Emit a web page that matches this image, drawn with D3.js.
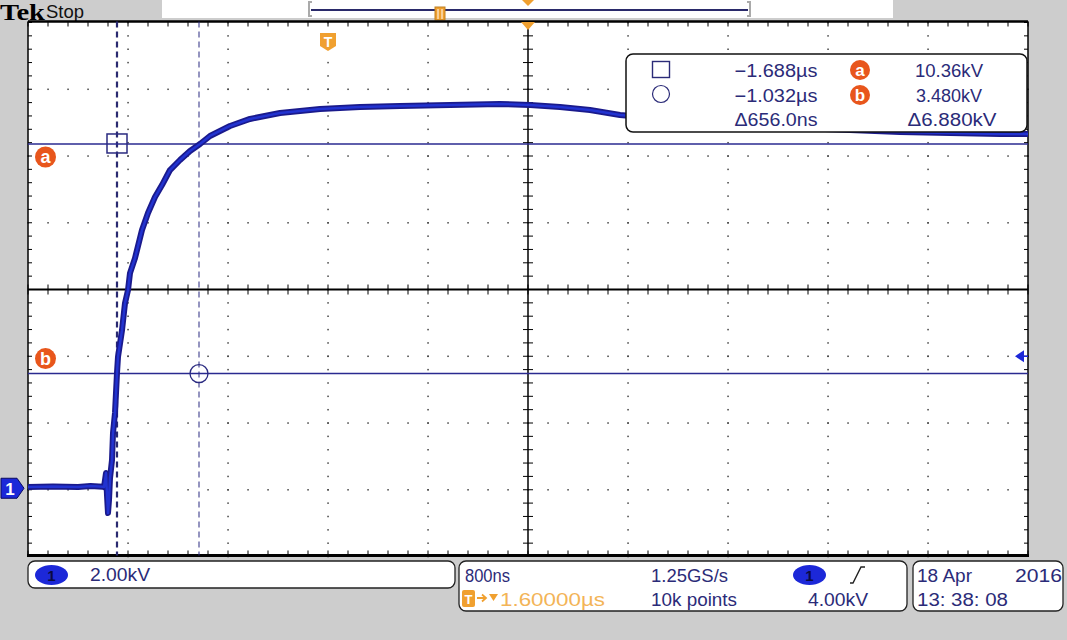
<!DOCTYPE html>
<html><head><meta charset="utf-8">
<script src="https://cdn.jsdelivr.net/npm/d3@7"></script>
<style>html,body{margin:0;padding:0;background:#cdcdcd;}svg{display:block;}</style>
</head><body>
<svg id="c" width="1067" height="640"></svg>
<script>
// ---- data (time in µs relative to trigger, voltage in kV) ----
const timeUs = [-2.4,-2.2,-2.0,-1.9,-1.8,-1.792,-1.776,-1.768,-1.76,-1.752,-1.744,-1.728,-1.72,-1.704,-1.688,-1.68,-1.648,-1.624,-1.6,-1.584,-1.544,-1.488,-1.44,-1.384,-1.328,-1.264,-1.184,-1.104,-1.024,-0.944,-0.784,-0.624,-0.384,-0.064,0.256,0.576,0.976,1.376,1.616,1.856,2.096,2.336,2.976,3.776,4.576,5.376,5.6];
const voltKV = [0.08,0.10,0.08,0.11,0.09,0.08,0.50,-0.16,-0.70,-0.31,0.35,0.89,1.70,2.30,3.50,3.98,4.78,5.59,5.98,6.49,6.94,7.78,8.29,8.77,9.13,9.58,9.88,10.15,10.36,10.60,10.90,11.11,11.29,11.41,11.47,11.50,11.53,11.56,11.53,11.47,11.38,11.23,11.02,10.84,10.72,10.66,10.66];
const timeDomain = [-2.4, 5.6];       // 8 µs over 10 divisions (800 ns/div)
const voltDomain = [-2, 14];          // 2.00 kV/div, 8 divisions
const cursorTimes = [-1.688, -1.032]; // µs
const cursorVolts = [10.36, 3.48];    // kV (a, b)
const triggerLevel = 4.0;             // kV
const triggerTime = 0;                // µs
const centerTime = 1.6;               // µs
const readoutRows = [["−1.688µs","10.36kV"],["−1.032µs","3.480kV"],["Δ656.0ns","Δ6.880kV"]];
const bottomLabels = {scale:"2.00kV", timebase:"800ns", rate:"1.25GS/s", pos:"1.60000µs", points:"10k points", trig:"4.00kV", date:"18 Apr", year:"2016", time:"13: 38: 08"};

const svg = d3.select("#c");
const L=28,R=1028,T=21.5,B=555.5;
const x = d3.scaleLinear().domain(timeDomain).range([L,R]);
const y = d3.scaleLinear().domain(voltDomain).range([556.5,22.5]);
const navy="#2b2b78", blue="#1c28d8", orange="#f0a030", red="#e8561c";
const FF="Liberation Sans, Arial, sans-serif";
function txt(g,px,py,s,o={}){const t=g.append("text").attr("x",px).attr("y",py).text(s)
 .attr("font-size",o.size||17).attr("fill",o.fill||navy).attr("font-family",o.family||FF);
 if(o.w) t.attr("textLength",o.w).attr("lengthAdjust","spacingAndGlyphs");
 if(o.anchor) t.attr("text-anchor",o.anchor); if(o.weight) t.attr("font-weight",o.weight); return t;}

// background
svg.append("rect").attr("width",1067).attr("height",640).attr("fill","#cdcdcd");
// top header
txt(svg,0,19.5,"Tek",{size:24,fill:"#000",family:"Liberation Serif, serif",weight:"bold",w:45});
txt(svg,46,18,"Stop",{size:19,fill:"#111",w:38});
svg.append("rect").attr("x",162).attr("y",0).attr("width",731).attr("height",18).attr("fill","#fff");
svg.append("path").attr("d","M312,2 L309,2 L309,16 L312,16 M747,2 L750,2 L750,16 L747,16").attr("stroke","#aaa").attr("stroke-width",2).attr("fill","none");
svg.append("line").attr("x1",311).attr("x2",748).attr("y1",10).attr("y2",10).attr("stroke","#2a2a6a").attr("stroke-width",2);
svg.append("rect").attr("x",435).attr("y",7).attr("width",10).attr("height",13).attr("fill",orange).attr("stroke","#c08020");
svg.append("path").attr("d","M438,9 V19 M442,9 V19").attr("stroke","#fff").attr("stroke-width",1);
svg.append("path").attr("d",`M${x(centerTime)-6},0 L${x(centerTime)+6},0 L${x(centerTime)},6 Z`).attr("fill",orange);

// plot area
svg.append("rect").attr("x",L).attr("y",T).attr("width",R-L).attr("height",B-T).attr("fill","#fff");
const grid=svg.append("g");
const minorT=d3.range(timeDomain[0],timeDomain[1]+1e-9,0.16);
const minorV=d3.range(voltDomain[0],voltDomain[1]+1e-9,0.4);
const majorT=d3.range(1,10).map(k=>timeDomain[0]+0.8*k);
const majorV=d3.range(1,8).map(k=>voltDomain[0]+2*k);
majorT.forEach((t,k)=>{ if(k===4) return; minorV.forEach(v=>grid.append("rect").attr("x",x(t)-0.7).attr("y",y(v)-0.7).attr("width",1.5).attr("height",1.5).attr("fill","#444"));});
majorV.forEach((v,k)=>{ if(k===3) return; minorT.forEach(t=>grid.append("rect").attr("x",x(t)-0.7).attr("y",y(v)-0.7).attr("width",1.5).attr("height",1.5).attr("fill","#444"));});
// centre cross
grid.append("line").attr("x1",L).attr("x2",R).attr("y1",y(6)).attr("y2",y(6)).attr("stroke","#000").attr("stroke-width",2);
grid.append("line").attr("x1",x(centerTime)).attr("x2",x(centerTime)).attr("y1",T).attr("y2",B).attr("stroke","#000").attr("stroke-width",1.5);
minorT.forEach(t=>grid.append("line").attr("x1",x(t)).attr("x2",x(t)).attr("y1",y(6)-5).attr("y2",y(6)+5).attr("stroke","#000"));
minorV.forEach(v=>grid.append("line").attr("x1",x(centerTime)-5).attr("x2",x(centerTime)+5).attr("y1",y(v)).attr("y2",y(v)).attr("stroke","#000"));
// edge ticks
minorT.forEach(t=>{grid.append("line").attr("x1",x(t)).attr("x2",x(t)).attr("y1",T).attr("y2",T+5).attr("stroke","#000");
 grid.append("line").attr("x1",x(t)).attr("x2",x(t)).attr("y1",B-5).attr("y2",B).attr("stroke","#000");});
minorV.forEach(v=>{grid.append("line").attr("x1",L).attr("x2",L+4).attr("y1",y(v)).attr("y2",y(v)).attr("stroke","#000");
 grid.append("line").attr("x1",R-4).attr("x2",R).attr("y1",y(v)).attr("y2",y(v)).attr("stroke","#000");});
// frame
svg.append("line").attr("x1",L).attr("x2",R).attr("y1",T).attr("y2",T).attr("stroke","#000").attr("stroke-width",2.5);
svg.append("line").attr("x1",L-1).attr("x2",R+1).attr("y1",B).attr("y2",B).attr("stroke","#000").attr("stroke-width",3);
svg.append("line").attr("x1",L).attr("x2",L).attr("y1",T).attr("y2",B).attr("stroke","#000").attr("stroke-width",1.5);
svg.append("line").attr("x1",R).attr("x2",R).attr("y1",T).attr("y2",B).attr("stroke","#000").attr("stroke-width",1.5);

// cursors
svg.append("line").attr("x1",x(cursorTimes[0])).attr("x2",x(cursorTimes[0])).attr("y1",T).attr("y2",B).attr("stroke","#2a2a70").attr("stroke-width",2.2).attr("stroke-dasharray","6,4");
svg.append("line").attr("x1",x(cursorTimes[1])).attr("x2",x(cursorTimes[1])).attr("y1",T).attr("y2",B).attr("stroke","#2a2a80").attr("stroke-width",1).attr("stroke-dasharray","6,4");
cursorVolts.forEach(v=>svg.append("line").attr("x1",L).attr("x2",R).attr("y1",y(v)).attr("y2",y(v)).attr("stroke","#2a2a90").attr("stroke-width",1.5));

// waveform
const line=d3.line().x((d,i)=>x(timeUs[i])).y((d,i)=>y(voltKV[i]));
svg.append("path").datum(voltKV).attr("d",line).attr("fill","none").attr("stroke","#1a1a8c").attr("stroke-width",6).attr("stroke-linejoin","round");
svg.append("path").datum(voltKV).attr("d",line).attr("fill","none").attr("stroke","#2233d0").attr("stroke-width",2.5).attr("stroke-linejoin","round");

// cursor markers
svg.append("rect").attr("x",x(cursorTimes[0])-10).attr("y",y(cursorVolts[0])-10).attr("width",20).attr("height",19).attr("fill","none").attr("stroke","#2a2a80").attr("stroke-width",1.5);
svg.append("circle").attr("cx",x(cursorTimes[1])).attr("cy",y(cursorVolts[1])).attr("r",9).attr("fill","none").attr("stroke","#2a2a80").attr("stroke-width",1.3);
// a / b labels
function badge(cx,cy,l){svg.append("circle").attr("cx",cx).attr("cy",cy).attr("r",10.5).attr("fill",red);
 txt(svg,cx,cy+6,l,{size:18,fill:"#fff",anchor:"middle",weight:"bold"});}
badge(45.5,y(cursorVolts[0])+13,"a");
badge(45.5,y(cursorVolts[1])-15,"b");
// trigger position marker
const tx=x(triggerTime);
svg.append("path").attr("d",`M${tx-8},33 H${tx+8} V46 L${tx},51 L${tx-8},46 Z`).attr("fill",orange);
txt(svg,tx,47,"T",{size:14,fill:"#fff",anchor:"middle",weight:"bold"});
// center marker
svg.append("path").attr("d",`M${x(centerTime)-7},22 H${x(centerTime)+7} L${x(centerTime)},30 Z`).attr("fill",orange);
// ground marker
const gy=y(0)-1.5;
svg.append("path").attr("d",`M1,${gy-10} H17 L24,${gy} L17,${gy+10} H1 Z`).attr("fill",blue).attr("stroke","#0a0a60");
txt(svg,10,gy+7,"1",{size:17,fill:"#fff",anchor:"middle",weight:"bold"});
// trigger level marker
const ty=y(triggerLevel);
svg.append("path").attr("d",`M1015,${ty} L1024,${ty-6} L1024,${ty+6} Z`).attr("fill",blue);
svg.append("line").attr("x1",1022).attr("x2",1028).attr("y1",ty).attr("y2",ty).attr("stroke",blue).attr("stroke-width",1.5);

// readout box
svg.append("rect").attr("x",626).attr("y",54).attr("width",401).attr("height",78).attr("rx",7).attr("fill","#fff").attr("stroke","#111").attr("stroke-width",1.5);
svg.append("rect").attr("x",652.5).attr("y",61.5).attr("width",17).attr("height",16).attr("fill","none").attr("stroke",navy).attr("stroke-width",1.4);
svg.append("circle").attr("cx",661).attr("cy",94).attr("r",8.5).attr("fill","none").attr("stroke",navy).attr("stroke-width",1.2);
const rowsY=[77,102,126];
readoutRows.forEach((r,i)=>{txt(svg,776,rowsY[i],r[0],{size:18,anchor:"middle",w:83});
 txt(svg,i===2?952:949,rowsY[i],r[1],{size:18,anchor:"middle",w:i===2?89:(i===0?68:66)});});
function badge2(cx,cy,l){svg.append("circle").attr("cx",cx).attr("cy",cy).attr("r",10).attr("fill",red);
 txt(svg,cx,cy+6,l,{size:17,fill:"#fff",anchor:"middle",weight:"bold"});}
badge2(860,70,"a"); badge2(860,95,"b");

// bottom boxes
function box(x0,y0,w,h){svg.append("rect").attr("x",x0).attr("y",y0).attr("width",w).attr("height",h).attr("rx",7).attr("fill","#fff").attr("stroke","#222").attr("stroke-width",1.3);}
box(28,561,427,27); box(459,561,448,50); box(913,561,150,50);
svg.append("ellipse").attr("cx",51.5).attr("cy",575).attr("rx",16.5).attr("ry",10).attr("fill",blue);
txt(svg,51.5,581,"1",{size:15,fill:"#0a0a40",anchor:"middle",weight:"bold"});
txt(svg,90,581,bottomLabels.scale,{size:19,w:60});
txt(svg,465,582,bottomLabels.timebase,{size:18,w:45});
txt(svg,651,582,bottomLabels.rate,{size:18,w:77});
svg.append("ellipse").attr("cx",809.5).attr("cy",575).attr("rx",16.5).attr("ry",10).attr("fill",blue);
txt(svg,809.5,581,"1",{size:15,fill:"#0a0a40",anchor:"middle",weight:"bold"});
svg.append("path").attr("d","M850,583 H853 L861,567 H865").attr("fill","none").attr("stroke","#222").attr("stroke-width",1.4);
svg.append("rect").attr("x",462).attr("y",590).attr("width",13).attr("height",17).attr("rx",2).attr("fill",orange);
txt(svg,468.5,604,"T",{size:13,fill:"#fff",anchor:"middle",weight:"bold"});
svg.append("path").attr("d","M477,598 H485 M482,594.5 L486,598 L482,601.5").attr("fill","none").attr("stroke",orange).attr("stroke-width",1.8);
svg.append("path").attr("d","M489,594 H498 L493.5,601 Z").attr("fill",orange);
txt(svg,500,606,bottomLabels.pos,{size:18,fill:"#f3b457",w:105});
txt(svg,651,606,bottomLabels.points,{size:18,w:86});
txt(svg,808,606,bottomLabels.trig,{size:18,w:60});
txt(svg,917,582,bottomLabels.date,{size:18,w:55});
txt(svg,1062,582,bottomLabels.year,{size:18,w:47,anchor:"end"});
txt(svg,917,606,bottomLabels.time,{size:18,w:91});
</script>
</body></html>
